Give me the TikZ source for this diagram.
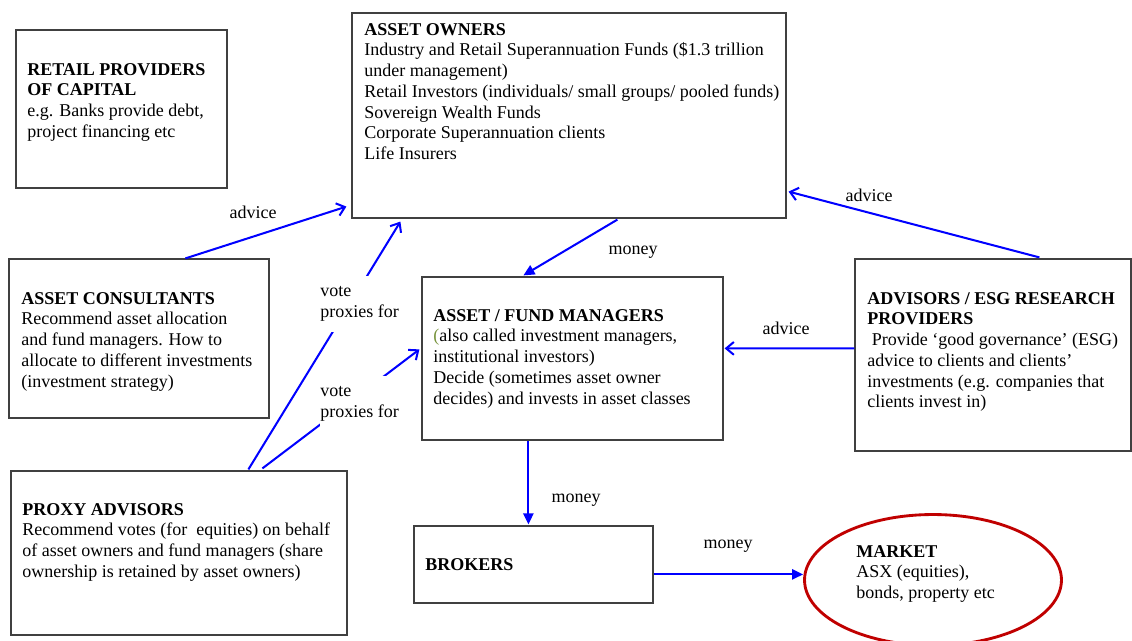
\documentclass[tikz,border=0pt]{standalone}
\usepackage{fontspec}
\setmainfont{Liberation Serif}
\usetikzlibrary{arrows.meta,calc,fit,shapes.geometric}
\definecolor{FlowBlue}{HTML}{0000FF}
\definecolor{BoxInk}{HTML}{404040}
\definecolor{MarketRed}{HTML}{C00000}
\definecolor{ParenGreen}{HTML}{77933C}
\tikzset{
  flow/.style={-{Triangle[length=2.6mm,width=2.4mm]},FlowBlue,line width=1.35pt},
  flowopen/.style={flow,-{Straight Barb[length=1.8mm,width=3.0mm]}},
  box/.style={draw=BoxInk,line width=0.8pt,inner sep=0pt},
  oval/.style={ellipse,draw=MarketRed,line width=1.9pt,inner sep=0pt},
  copy/.style={anchor=north west,align=left,inner sep=0pt,font=\fontsize{12}{13.8}\selectfont},
  flowtag/.style={font=\fontsize{12}{13.8}\selectfont,inner sep=0pt},
  votetag/.style={copy,fill=white,inner ysep=7pt},
}

\begin{document}
\begin{tikzpicture}[x=0.6667pt,y=-0.6667pt]
    \useasboundingbox (0,0) rectangle (1132,641);

    \node[box,fit={(16,30) (227,188)}] (retail) {};
    \node[box,fit={(352,13) (786,218)}] (owners) {};
    \node[box,fit={(9,259) (269,418)}] (consultants) {};
    \node[box,fit={(422,277) (723,440)}] (managers) {};
    \node[box,fit={(855,259) (1131,451)}] (esg) {};
    \node[box,fit={(11,471) (347,635)}] (proxy) {};
    \node[box,fit={(414,526) (653,603)}] (brokers) {};
    \node[oval,minimum width=171.3pt,minimum height=87.3pt] (market) at (933,580) {};

    \node[copy] (retailtxt) at (27,63)
      {\textbf{RETAIL PROVIDERS}\\\textbf{OF CAPITAL}\\e.g. Banks provide debt,\\project financing etc};
    \node[copy] (ownerstxt) at (364,23)
      {\textbf{ASSET OWNERS}\\Industry and Retail Superannuation Funds (\$1.3 trillion\\under management)\\
       Retail Investors (individuals/ small groups/ pooled funds)\\Sovereign Wealth Funds\\
       Corporate Superannuation clients\\Life Insurers};
    \node[copy] (consultantstxt) at (21,292)
      {\textbf{ASSET CONSULTANTS}\\Recommend asset allocation\\and fund managers. How to\\
       allocate to different investments\\(investment strategy)};
    \node[copy] (managerstxt) at (433,309)
      {\textbf{ASSET / FUND MANAGERS}\\\textcolor{ParenGreen}{(}also called investment managers,\\
       institutional investors)\\Decide (sometimes asset owner\\decides) and invests in asset classes};
    \node[copy] (esgtxt) at (867,292)
      {\textbf{ADVISORS / ESG RESEARCH}\\\textbf{PROVIDERS}\\\ Provide ‘good governance’ (ESG)\\
       advice to clients and clients’\\investments (e.g. companies that\\clients invest in)};
    \node[copy] (proxytxt) at (22,503)
      {\textbf{PROXY ADVISORS}\\Recommend votes (for~ equities) on behalf\\
       of asset owners and fund managers (share\\ownership is retained by asset owners)};
    \node[copy] (brokerstxt) at (425,558) {\textbf{BROKERS}};
    \node[copy] (markettxt) at (856,545)
      {\textbf{MARKET}\\ASX (equities),\\bonds, property etc};

    \draw[flowopen] ($(consultants.north west)+(177,0)$) -- ($(owners.south west)+(-5,-12)$);
    \draw[flowopen] ($(proxy.north west)+(238,-1)$) -- ($(owners.south west)+(49,3)$);
    \draw[flowopen] ($(proxy.north west)+(252,-2)$) -- ($(managers.north west)+(-2,73)$);
    \draw[flow] ($(owners.south west)+(266,1)$) -- ($(managers.north west)+(102,-1)$);
    \draw[flowopen] ($(esg.north west)+(185,-1)$) -- ($(owners.south east)+(2,-27)$);
    \draw[flowopen] ($(esg.north west)+(0,90)$) -- ($(managers.north east)+(1,72)$);
    \draw[flow] ($(managers.south west)+(107,0)$) -- ($(brokers.north west)+(115,-1)$);
    \draw[flow] ($(brokers.north east)+(0,49)$) coordinate (bm) -- (bm -| market.west);

    \node[flowtag] (advcons) at (253,212) {advice};
    \node[votetag] (voteowners) at (320,276) {vote\\proxies for};
    \node[votetag] (votemanagers) at (320,376) {vote\\proxies for};
    \node[flowtag] (moneyowners) at (633,252) {money};
    \node[flowtag] (advesgown) at (869,195) {advice};
    \node[flowtag] (advesgman) at (786,328) {advice};
    \node[flowtag] (moneymanagers) at (576,500) {money};
    \node[flowtag] (moneybrokers) at (728,546) {money};
  \end{tikzpicture}
\end{document}
